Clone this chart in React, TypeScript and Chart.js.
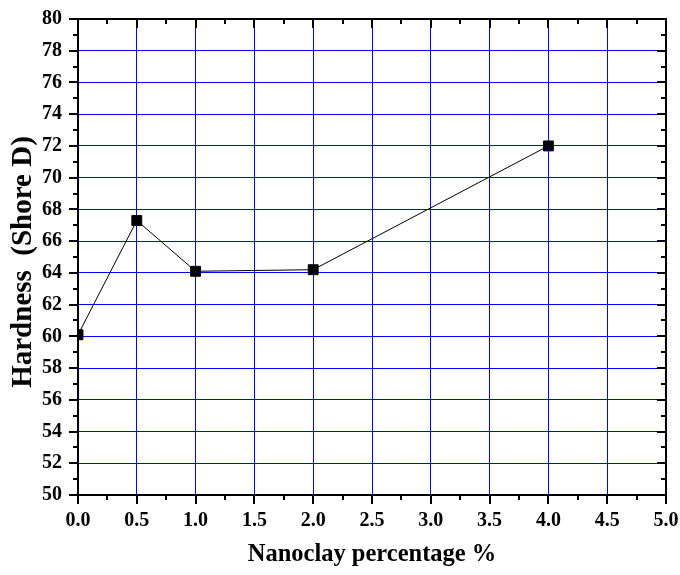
import React, { useEffect, useRef } from "react";
import { Chart, registerables } from "chart.js";

Chart.register(...registerables);

const xValues = [0, 0.5, 1.0, 2.0, 4.0];
const hardness = [60.1, 67.3, 64.1, 64.2, 72.0];
const xTitle = "Nanoclay percentage %";
const yTitle = "Hardness  (Shore D)";
const xMin = 0, xMax = 5, xStep = 0.5, xMinorStep = 0.25;
const yMin = 50, yMax = 80, yStep = 2, yMinorStep = 1;

const FONT = "'Liberation Serif', 'Times New Roman', serif";

const framePlugin = {
  id: "frame",
  afterDraw(chart: any) {
    const { ctx, chartArea } = chart;
    const { left, right, top, bottom } = chartArea;
    const xs = chart.scales.x;
    const ys = chart.scales.y;
    ctx.save();
    ctx.strokeStyle = "#000";
    ctx.lineWidth = 2;
    ctx.strokeRect(left, top, right - left, bottom - top);
    ctx.beginPath();
    const nx = Math.round((xMax - xMin) / xMinorStep);
    for (let i = 0; i <= nx; i++) {
      const v = xMin + i * xMinorStep;
      const px = Math.round(xs.getPixelForValue(v));
      const major = i % 2 === 0;
      const len = major ? 9 : 5;
      ctx.moveTo(px, bottom);
      ctx.lineTo(px, bottom + len);
      ctx.moveTo(px, top);
      ctx.lineTo(px, top + len);
    }
    const ny = Math.round((yMax - yMin) / yMinorStep);
    for (let i = 0; i <= ny; i++) {
      const v = yMin + i * yMinorStep;
      const py = Math.round(ys.getPixelForValue(v));
      const major = i % 2 === 0;
      const len = major ? 9 : 5;
      ctx.moveTo(left, py);
      ctx.lineTo(left - len, py);
      ctx.moveTo(right, py);
      ctx.lineTo(right - len, py);
    }
    ctx.stroke();

    ctx.fillStyle = "#000";
    ctx.font = `bold 24.5px ${FONT}`;
    ctx.textAlign = "center";
    ctx.textBaseline = "middle";
    ctx.fillText(xTitle, (left + right) / 2, 555);
    ctx.font = `bold 29px ${FONT}`;
    ctx.translate(24, 262);
    ctx.rotate(-Math.PI / 2);
    ctx.fillText(yTitle, 0, 0);
    ctx.restore();
  },
};

const zeroPad = (s: any) => {
  s.paddingLeft = 0;
  s.paddingRight = 0;
  s.paddingTop = 0;
  s.paddingBottom = 0;
};

export default function App() {
  const ref = useRef<HTMLCanvasElement>(null);
  useEffect(() => {
    if (!ref.current) return;
    const chart = new Chart(ref.current, {
      type: "line",
      data: {
        datasets: [
          {
            data: xValues.map((x, i) => ({ x, y: hardness[i] })),
            borderColor: "#000",
            borderWidth: 1,
            backgroundColor: "#000",
            pointStyle: "rect",
            pointRadius: 7,
            pointBorderWidth: 1,
            pointBorderColor: "#000",
            pointBackgroundColor: "#000",
            clip: 0,
            tension: 0,
          },
        ],
      },
      options: {
        responsive: false,
        animation: false,
        layout: { padding: { top: 19, right: 14, left: 0, bottom: 0 } },
        plugins: { legend: { display: false }, tooltip: { enabled: false } },
        scales: {
          x: {
            type: "linear",
            min: xMin,
            max: xMax,
            afterFit: (s: any) => {
              s.height = 80;
              zeroPad(s);
            },
            ticks: {
              stepSize: xStep,
              callback: (v: any) => Number(v).toFixed(1),
              color: "#000",
              font: { family: FONT, size: 20, weight: "bold" },
              padding: 14,
              maxRotation: 0,
              autoSkip: false,
            },
            grid: { color: "#0000ff", lineWidth: 1, drawTicks: false },
            border: { display: false },
          },
          y: {
            type: "linear",
            min: yMin,
            max: yMax,
            afterFit: (s: any) => {
              s.width = 78;
              zeroPad(s);
            },
            ticks: {
              stepSize: yStep,
              color: "#000",
              font: { family: FONT, size: 20, weight: "bold" },
              padding: 16,
              autoSkip: false,
            },
            grid: { color: "#0000ff", lineWidth: 1, drawTicks: false },
            border: { display: false },
          },
        },
      },
      plugins: [framePlugin],
    });
    return () => chart.destroy();
  }, []);
  return (
    <div style={{ position: "absolute", left: 0, top: 0, width: 680, height: 575, background: "#fff" }}>
      <canvas ref={ref} width={680} height={575} />
    </div>
  );
}
